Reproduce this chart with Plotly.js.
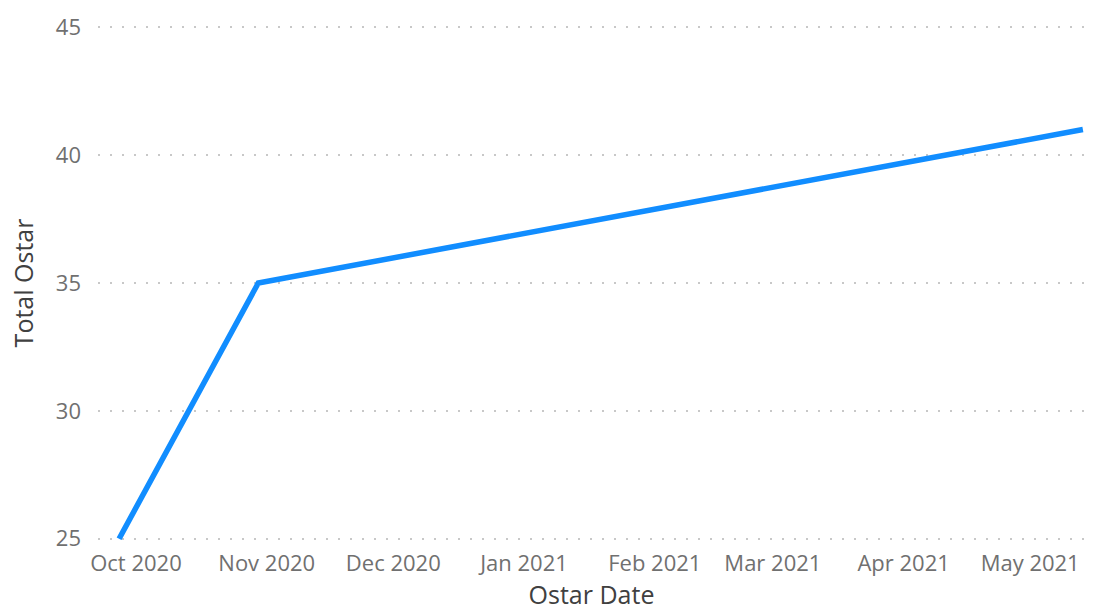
<!DOCTYPE html>
<html>
<head>
<meta charset="utf-8">
<script src="https://cdn.plot.ly/plotly-3.0.1.min.js"></script>
<style>html,body{margin:0;padding:0;background:#fff;}#chart{width:1093px;height:614px;}</style>
</head>
<body>
<div id="chart"></div>
<script>
const dates = ["2020-09-27", "2020-10-30", "2021-05-13 12:00"];
const totalOstar = [25, 35, 41];
const tickDates = ["2020-10-01","2020-11-01","2020-12-01","2021-01-01","2021-02-01","2021-03-01","2021-04-01","2021-05-01"];
const tickLabels = ["Oct 2020","Nov 2020","Dec 2020","Jan 2021","Feb 2021","Mar 2021","Apr 2021","May 2021"];
const yTicks = [25, 30, 35, 40, 45];

const font = "'Segoe UI', 'Open Sans', 'Noto Sans', sans-serif";
const layout = {
  width: 1093, height: 614,
  margin: {l: 98, r: 8, t: 26, b: 74},
  paper_bgcolor: '#fff', plot_bgcolor: '#fff',
  showlegend: false,
  font: {family: font},
  xaxis: {
    type: 'date', range: ["2020-09-22", "2021-05-14"],
    tickvals: tickDates, ticktext: tickLabels,
    showgrid: false, zeroline: false, showline: false,
    ticks: '', ticklabelstandoff: 8,
    tickfont: {size: 22, color: '#707070', family: font},
    title: {text: 'Ostar Date', font: {size: 25, color: '#404040', family: font}, standoff: 10}
  },
  yaxis: {
    range: [24.95, 45.05], tickvals: yTicks,
    showgrid: true, gridcolor: '#c8c8c8', griddash: '2px,10px', gridwidth: 2,
    zeroline: false, showline: false, ticks: '', ticklabelstandoff: 16,
    tickfont: {size: 22, color: '#707070', family: font},
    title: {text: 'Total Ostar', font: {size: 25, color: '#404040', family: font}, standoff: 15}
  }
};
Plotly.newPlot('chart', [{
  x: dates, y: totalOstar, type: 'scatter', mode: 'lines',
  line: {color: '#118DFF', width: 5.5},
  hoverinfo: 'x+y'
}], layout, {displayModeBar: false, staticPlot: true});
</script>
</body>
</html>
